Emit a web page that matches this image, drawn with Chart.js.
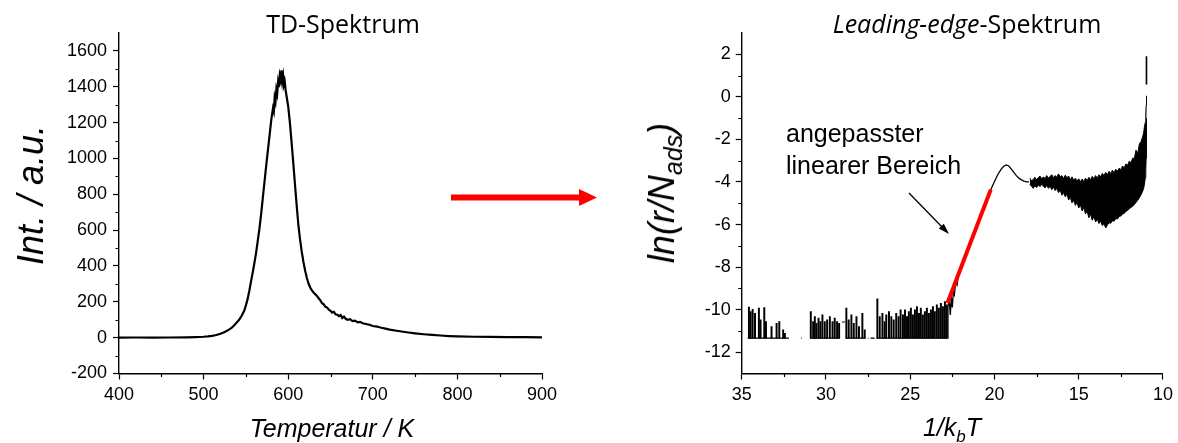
<!DOCTYPE html>
<html lang="de">
<head>
<meta charset="utf-8">
<title>TD-Spektrum / Leading-edge-Spektrum</title>
<script src="https://cdn.jsdelivr.net/npm/chart.js@4.4.1/dist/chart.umd.min.js"></script>
<style>
  html, body { margin: 0; padding: 0; background: #fff; }
  #page { position: relative; width: 1178px; height: 443px; overflow: hidden;
          font-family: 'Liberation Sans', Arial, sans-serif; color: #000; }
  canvas { position: absolute; top: 0; }
  #cv-td { left: 0; }
  #cv-le { left: 600px; }
  .lbl   { position: absolute; white-space: nowrap; line-height: 1; }
  .title { font-family: 'Open Sans', sans-serif; font-size: 25px; transform: translateX(-50%); }
  .axh   { font-style: italic; font-size: 25px; transform: translateX(-50%); }
  .axv   { font-style: italic; font-size: 36px; transform: translate(-50%, -50%) rotate(-90deg); }
  .note  { font-size: 25px; }
  sub    { line-height: 0; }
  #arrows { position: absolute; left: 0; top: 0; }
</style>
</head>
<body>
<div id="page">
  <canvas id="cv-td" width="600" height="443"></canvas>
  <canvas id="cv-le" width="578" height="443"></canvas>

  <div class="lbl title" style="left:343px; top:11px;">TD-Spektrum</div>
  <div class="lbl title" style="left:967px; top:11px;"><i>Leading-edge</i>-Spektrum</div>

  <div class="lbl axv" style="left:31px; top:195px;">Int. / a.u.</div>
  <div class="lbl axh" style="left:332px; top:416px;">Temperatur / K</div>

  <div class="lbl axv" style="left:662px; top:193px;">ln(r/N<sub style="font-size:25px; vertical-align:-0.3em;">ads</sub>)</div>
  <div class="lbl axh" style="left:952px; top:415px;">1/k<sub style="font-size:17px; vertical-align:-0.35em;">b</sub>T</div>

  <div class="lbl note" style="left:786px; top:121px;">angepasster</div>
  <div class="lbl note" style="left:786px; top:153px;">linearer Bereich</div>

  <svg id="arrows" width="1178" height="443">
    <line x1="451" y1="197.5" x2="581" y2="197.5" stroke="#ff0000" stroke-width="6"/>
    <polygon points="579,189 597,197.5 579,206" fill="#ff0000"/>
    <line x1="909" y1="193" x2="943" y2="228" stroke="#000" stroke-width="1.3"/>
    <polygon points="938.8,228.5 949,234 943.8,223.7" fill="#000"/>
  </svg>
</div>

<script>
// ------------------------------------------------------------
//  TD-Spektrum: Intensität gegen Temperatur
// ------------------------------------------------------------
const tdTemp = [
  400, 420, 440, 460, 480, 490, 500, 505, 510, 515,
  520, 525, 530, 533, 536, 539, 542, 545, 548, 550,
  552, 554, 556, 558, 560, 562, 564, 566, 568, 570,
  572, 574, 576, 578, 580, 582, 583, 584, 585, 586,
  587, 588, 589, 590, 591, 592, 593, 594, 595, 596,
  597, 598, 600, 602, 604, 606, 608, 610, 612, 614,
  616, 618, 620, 622, 624, 626, 628, 630, 632, 634,
  636, 638, 640, 642, 644, 646, 648, 650, 652, 654,
  656, 658, 660, 662, 664, 666, 668, 670, 673, 676,
  679, 682, 685, 688, 692, 696, 700, 705, 710, 715,
  720, 730, 740, 750, 760, 770, 780, 790, 800, 820,
  840, 860, 880, 900
];
const tdInt = [
  0, 1, 0, 1, 2, 3, 5, 7, 10, 15,
  22, 32, 45, 55, 68, 84, 100, 122, 150, 180,
  215, 260, 312, 362, 415, 472, 540, 608, 690, 780,
  870, 960, 1045, 1130, 1215, 1280, 1262, 1340, 1318, 1385,
  1362, 1425, 1398, 1462, 1440, 1492, 1432, 1462, 1410, 1425,
  1380, 1350, 1290, 1200, 1090, 975, 855, 740, 630, 548,
  480, 422, 374, 334, 302, 280, 264, 252, 242, 232,
  220, 208, 192, 186, 172, 168, 156, 150, 140, 144,
  130, 128, 120, 126, 110, 118, 105, 100, 103, 92,
  95, 86, 88, 80, 76, 72, 65, 62, 55, 50,
  45, 37, 30, 24, 19, 15, 12, 9, 7, 5,
  4, 3, 3, 2
];
const tdXTicks = [400, 500, 600, 700, 800, 900];
const tdXMinor = [450, 550, 650, 750, 850];
const tdYTicks = [-200, 0, 200, 400, 600, 800, 1000, 1200, 1400, 1600];
const tdYMinor = [-100, 100, 300, 500, 700, 900, 1100, 1300, 1500];

// ------------------------------------------------------------
//  Leading-edge-Spektrum: ln(r/N_ads) gegen 1/kT
// ------------------------------------------------------------
// Untergrund (null = Lücke, dort ist r <= 0)
const leBase = -11.34;
const baseX = [
  34.65, 32.20, null,
  31.76, 31.72, null, 31.46, 31.42, null, 31.17, 31.13, null,
  30.94, 29.18, null,
  29.05, 28.88, null,
  28.83, 27.64, null,
  27.52, 27.48, null, 27.36, 27.11, null,
  27.00, 22.80
];
const baseY = [
  leBase, leBase, null,
  leBase, leBase, null, leBase, leBase, null, leBase, leBase, null,
  leBase, leBase, null,
  -10.58, -10.58, null,
  leBase, leBase, null,
  leBase, leBase, null, leBase, leBase, null,
  leBase, leBase
];

// einzelne Ausschläge aus dem Untergrund
const spikeX = [
  34.57, 34.47, 34.35, 34.21, 33.98, 33.88, 33.66, 33.56, 33.23, 32.93,
  32.77, 32.54, 32.44,
  30.90, 30.76, 30.66, 30.56, 30.44, 30.33, 30.21, 30.07, 29.93, 29.77,
  29.61, 29.48, 29.34, 29.22,
  28.79, 28.65, 28.49, 28.35, 28.19, 28.04, 27.84, 27.70,
  26.95,
  26.81, 26.65, 26.52, 26.42, 26.26, 26.12, 25.98, 25.83, 25.69, 25.57,
  25.43, 25.31, 25.19, 25.08, 24.96, 24.84, 24.72, 24.60, 24.48, 24.37,
  24.25, 24.13, 24.01, 23.89, 23.77, 23.65, 23.54, 23.42, 23.30, 23.18,
  23.06, 22.94, 22.83
];
const spikeTop = [
  -9.88, -10.09, -9.98, -10.17, -9.93, -10.48, -9.90, -10.56, -10.79, -10.64,
  -10.56, -10.95, -11.11,
  -10.09, -10.56, -10.32, -10.64, -10.40, -10.56, -10.24, -10.56, -10.48, -10.32,
  -10.56, -10.40, -10.56, -10.64,
  -9.93, -10.48, -10.24, -10.64, -10.32, -10.79, -10.17, -10.95,
  -9.49,
  -10.32, -10.17, -10.56, -10.24, -10.09, -10.32, -10.48, -10.17, -10.32, -10.01,
  -10.24, -10.01, -10.32, -10.09, -9.93, -10.24, -10.01, -9.85, -10.17, -9.93,
  -10.24, -10.09, -9.93, -10.17, -10.01, -9.85, -10.09, -9.77, -9.93, -9.70,
  -9.85, -9.62, -9.77
];

// Anstieg, Maximum und Übergang ins Rauschband
const riseX = [
  22.80, 22.76, 22.68, 22.62, 22.56, 22.50, 22.44, 22.38, 22.30, 22.22,
  22.14, 22.06, 22.00, 21.90, 21.80, 21.70, 21.60, 21.50, 21.40, 21.20,
  21.00, 20.80, 20.60, 20.40, 20.20, 20.00, 19.80, 19.60, 19.45, 19.30,
  19.15, 19.00, 18.85, 18.70, 18.55, 18.40, 18.25, 18.10, 17.95
];
const riseY = [
  -11.34, -9.85, -9.60, -10.25, -9.40, -9.90, -9.15, -9.30, -8.75, -8.85,
  -8.35, -8.30, -8.05, -7.90, -7.62, -7.45, -7.20, -7.02, -6.80, -6.38,
  -5.97, -5.55, -5.12, -4.72, -4.33, -3.98, -3.65, -3.40, -3.26, -3.20,
  -3.25, -3.40, -3.55, -3.70, -3.82, -3.90, -3.96, -4.00, -4.00
];

// dichtes Rauschband oberhalb von 1/kT = 18: obere und untere Hüllkurve
const bandX = [
  17.9, 17.8, 17.7, 17.6, 17.5, 17.4, 17.3, 17.2, 17.1, 17.0,
  16.9, 16.8, 16.7, 16.6, 16.5, 16.4, 16.3, 16.2, 16.1, 16.0,
  15.9, 15.8, 15.7, 15.6, 15.5, 15.4, 15.3, 15.2, 15.1, 15.0,
  14.9, 14.8, 14.7, 14.6, 14.5, 14.4, 14.3, 14.2, 14.1, 14.0,
  13.9, 13.8, 13.7, 13.6, 13.5, 13.4, 13.3, 13.2, 13.1, 13.0,
  12.9, 12.8, 12.7, 12.6, 12.5, 12.4, 12.3, 12.2, 12.1, 12.0,
  11.9, 11.8, 11.7, 11.6, 11.5, 11.4, 11.3, 11.2, 11.15, 11.1,
  11.05, 11.02, 11.0, 10.98
];
const bandTop = [
  -3.82, -3.95, -3.88, -3.78, -3.90, -3.80, -3.72, -3.86, -3.76, -3.84,
  -3.70, -3.82, -3.74, -3.66, -3.80, -3.70, -3.78, -3.62, -3.76, -3.70,
  -3.84, -3.68, -3.80, -3.72, -3.90, -3.76, -3.92, -3.82, -3.96, -3.85,
  -4.00, -3.86, -3.98, -3.82, -3.94, -3.78, -3.90, -3.74, -3.86, -3.70,
  -3.82, -3.66, -3.76, -3.60, -3.70, -3.55, -3.66, -3.50, -3.60, -3.45,
  -3.56, -3.40, -3.50, -3.35, -3.42, -3.25, -3.34, -3.15, -3.22, -3.02,
  -3.10, -2.88, -2.90, -2.50, -2.68, -2.20, -2.10, -1.85, -1.70, -1.40,
  -1.20, -0.80, -0.40, 0.05
];
const bandBottom = [
  -4.12, -4.20, -4.30, -4.18, -4.26, -4.14, -4.22, -4.10, -4.20, -4.28,
  -4.16, -4.30, -4.20, -4.36, -4.24, -4.40, -4.30, -4.50, -4.38, -4.62,
  -4.50, -4.70, -4.58, -4.85, -4.72, -4.98, -4.86, -5.10, -4.96, -5.22,
  -5.08, -5.36, -5.20, -5.50, -5.36, -5.68, -5.50, -5.80, -5.62, -5.88,
  -5.74, -5.95, -5.84, -6.05, -5.96, -6.16, -6.02, -5.92, -5.94, -5.82,
  -5.84, -5.72, -5.74, -5.62, -5.60, -5.50, -5.48, -5.38, -5.34, -5.26,
  -5.20, -5.14, -5.06, -4.96, -4.86, -4.74, -4.60, -4.42, -4.30, -4.12,
  -3.80, -3.40, -2.90, -1.00
];

// abgesetzter letzter Ausschlag bei 1/kT ≈ 11
const tipX = [10.98, 10.98];
const tipY = [0.58, 1.91];

// angepasster linearer Bereich
const fitX = [22.79, 20.22];
const fitY = [-9.69, -4.36];

const leXTicks = [35, 30, 25, 20, 15, 10];
const leXMinor = [32.5, 27.5, 22.5, 17.5, 12.5];
const leYTicks = [-12, -10, -8, -6, -4, -2, 0, 2];
const leYMinor = [-11, -9, -7, -5, -3, -1, 1];

// ------------------------------------------------------------
//  Hilfsfunktionen
// ------------------------------------------------------------
const toPoints = (xs, ys) => xs.map((x, i) => ({ x: x === null ? xs[i - 1] : x, y: ys[i] }));

// Chart.js kennt keine Nebenstriche, daher eigenes Plugin
const minorTicks = {
  id: 'minorTicks',
  afterDraw(chart, args, opts) {
    const { ctx, chartArea: a, scales: { x, y } } = chart;
    ctx.save();
    ctx.strokeStyle = '#000';
    ctx.lineWidth = 1.2;
    ctx.beginPath();
    opts.x.forEach(v => {
      const px = Math.round(x.getPixelForValue(v)) + 0.5;
      ctx.moveTo(px, a.bottom);
      ctx.lineTo(px, a.bottom + opts.len);
    });
    opts.y.forEach(v => {
      const py = Math.round(y.getPixelForValue(v)) + 0.5;
      ctx.moveTo(a.left, py);
      ctx.lineTo(a.left - opts.len, py);
    });
    ctx.stroke();
    ctx.restore();
  }
};

function axis(min, max, ticks, o) {
  return {
    type: 'linear',
    min, max,
    offset: false,
    reverse: !!o.reverse,
    afterBuildTicks: s => { s.ticks = ticks.map(v => ({ value: v })); },
    afterFit: s => {
      if (o.width)  s.width  = o.width;
      if (o.height) s.height = o.height;
    },
    grid:   { offset: false, drawOnChartArea: false, drawTicks: true, tickLength: 6, tickColor: '#000', tickWidth: 1.2 },
    border: { display: true, color: '#000', width: 1.4 },
    ticks:  {
      color: '#000', padding: o.pad,
      font: { family: 'Liberation Sans', size: 18 },
      callback: v => String(v)
    }
  };
}

function baseOptions(padding, scales, minor) {
  return {
    responsive: false,
    animation: false,
    devicePixelRatio: 1,
    layout: { padding },
    scales,
    plugins: {
      legend:  { display: false },
      tooltip: { enabled: false },
      minorTicks: minor
    }
  };
}

// ------------------------------------------------------------
//  Zeichnen
// ------------------------------------------------------------
function renderTD() {
  new Chart(document.getElementById('cv-td'), {
    type: 'scatter',
    data: {
      datasets: [{
        data: toPoints(tdTemp, tdInt),
        showLine: true,
        borderColor: '#000',
        borderWidth: 2.2,
        pointRadius: 0
      }]
    },
    options: baseOptions(
      { left: 0, right: 58, top: 33, bottom: 0 },
      {
        x: axis(400, 900, tdXTicks, { height: 69.5, pad: 5 }),
        y: axis(-200, 1700, tdYTicks, { width: 119, pad: 6 })
      },
      { x: tdXMinor, y: tdYMinor, len: 3.5 }
    ),
    plugins: [minorTicks]
  });
}

function renderLeadingEdge() {
  const line = (data, extra) => Object.assign({
    data, showLine: true, spanGaps: false,
    borderColor: '#000', borderWidth: 1.3, pointRadius: 0
  }, extra);

  new Chart(document.getElementById('cv-le'), {
    type: 'scatter',
    data: {
      datasets: [
        line(toPoints(fitX, fitY), { borderColor: '#ff0000', borderWidth: 4, order: 0 }),
        line(toPoints(baseX, baseY), { borderWidth: 1.2, order: 1 }),
        {
          type: 'bar',
          data: spikeX.map((x, i) => ({ x, y: [leBase, spikeTop[i]] })),
          backgroundColor: '#000',
          borderWidth: 0,
          barThickness: 1.3,
          order: 2
        },
        line(toPoints(riseX, riseY), { order: 3 }),
        line(toPoints(bandX, bandTop), { borderWidth: 1, fill: '+1', backgroundColor: '#000', order: 4 }),
        line(toPoints(bandX, bandBottom), { borderWidth: 1, order: 5 }),
        line(toPoints(tipX, tipY), { borderWidth: 1.6, order: 6 })
      ]
    },
    options: baseOptions(
      { left: 0, right: 14, top: 33, bottom: 0 },
      {
        x: axis(10, 35, leXTicks, { height: 69.5, pad: 5, reverse: true }),
        y: axis(-13, 3, leYTicks, { width: 141.7, pad: 5 })
      },
      { x: leXMinor, y: leYMinor, len: 3.5 }
    ),
    plugins: [minorTicks]
  });
}

renderTD();
renderLeadingEdge();
</script>
</body>
</html>
